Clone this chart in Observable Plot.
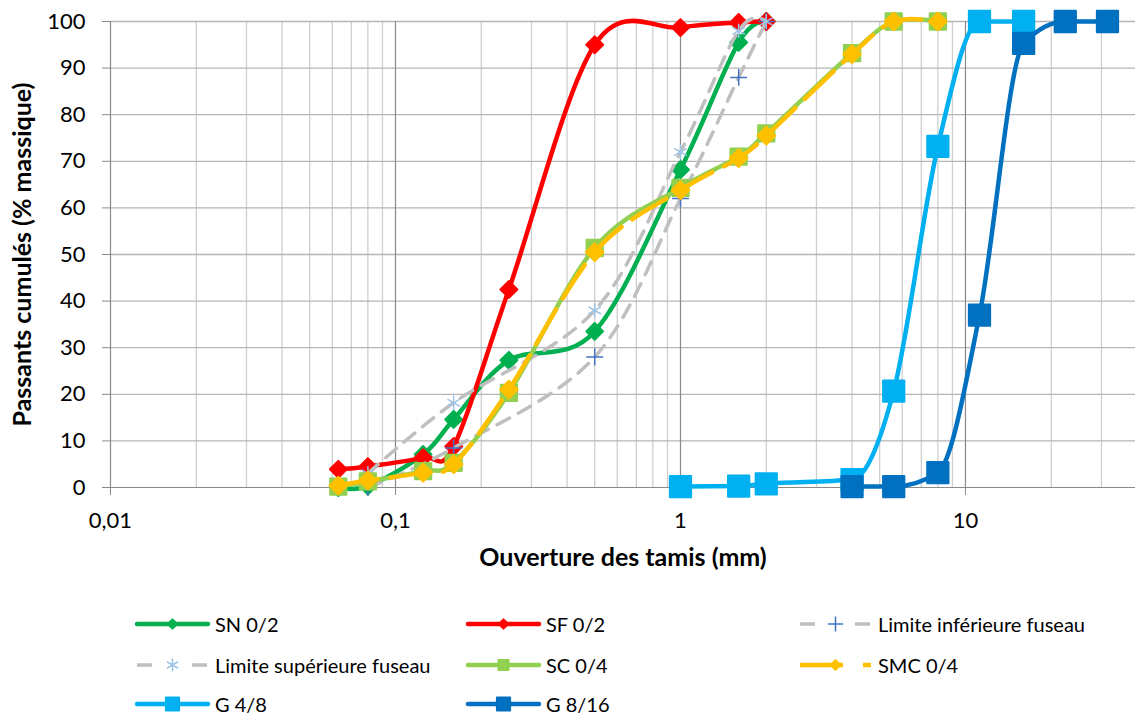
<!DOCTYPE html>
<html><head><meta charset="utf-8">
<script src="https://cdn.jsdelivr.net/npm/d3@7"></script>
<script src="https://cdn.jsdelivr.net/npm/@observablehq/plot@0.6"></script>
<style>
body{margin:0;background:#fff;}
#wrap{position:relative;width:1135px;height:718px;overflow:hidden;background:#fff;}
#wrap svg.chart{position:absolute;left:0;top:0;}
.leg{position:absolute;display:flex;align-items:center;font-family:Lato, sans-serif;font-size:20px;line-height:20px;color:#000;white-space:nowrap;height:20px;}
.leg svg{margin-right:7px;overflow:visible;}
</style></head><body><div id="wrap"></div>
<script>
// ---- data ----
const sievesFine = [0.063, 0.08, 0.125, 0.16, 0.25, 0.5, 1, 1.6, 2];
const snPassing  = [0, 0.3, 7.1, 14.6, 27.3, 33.5, 68.2, 95.5, 100];
const sfPassing  = [3.9, 4.5, 6.4, 8.8, 42.5, 95, 98.7, 99.8, 100];

const sievesLimits = [0.08, 0.16, 0.5, 1, 1.6, 2];
const limInfPassing = [0, 8.5, 28, 62, 88, 100];
const limSupPassing = [3, 18.2, 38, 72, 98, 100];

const sievesSand04 = [0.063, 0.08, 0.125, 0.16, 0.25, 0.5, 1, 1.6, 2, 4, 5.6, 8];
const scPassing  = [0.2, 1.3, 3.5, 5.3, 20.3, 51.4, 64.3, 71, 76, 93.2, 100, 100];
const smcPassing = [0.4, 1.5, 3.2, 5, 21, 50.5, 63.8, 70.7, 75.5, 93, 100, 100];

const sievesG48 = [1, 1.6, 2, 4, 5.6, 8, 11.2, 16];
const g48Passing = [0.2, 0.3, 0.8, 1.7, 20.7, 73.2, 100, 100];

const sievesG816 = [4, 5.6, 8, 11.2, 16, 22.4, 31.5];
const g816Passing = [0.2, 0.2, 3.2, 37, 95.3, 100, 100];

const seriesNames = ["SN 0/2", "SF 0/2", "Limite inférieure fuseau", "Limite supérieure fuseau", "SC 0/4", "SMC 0/4", "G 4/8", "G 8/16"];
const seriesX = [sievesFine, sievesFine, sievesLimits, sievesLimits, sievesSand04, sievesSand04, sievesG48, sievesG816];
const seriesY = [snPassing, sfPassing, limInfPassing, limSupPassing, scPassing, smcPassing, g48Passing, g816Passing];

const yTicks = [0, 10, 20, 30, 40, 50, 60, 70, 80, 90, 100];
const xTicks = [0.01, 0.1, 1, 10];
const xTitle = "Ouverture des tamis (mm)";
const yTitle = "Passants cumulés (% massique)";

// ---- styles ----
const GRAY = "#BFBFBF";
const styles = {
  "SN 0/2": {color:"#00B050", width:4.5, symbol:"diamond2", r:7.6, mfill:"#00B050", mstroke:"#00B050"},
  "SF 0/2": {color:"#FF0000", width:4.5, symbol:"diamond2", r:7.6, mfill:"#FF0000", mstroke:"#FF0000"},
  "Limite inférieure fuseau": {color:GRAY, width:3.5, dash:"14,10", symbol:"plus", r:5.5, mfill:"none", mstroke:"#4472C4", mw:1.5},
  "Limite supérieure fuseau": {color:GRAY, width:3.5, dash:"14,10", symbol:"asterisk", r:6.8, mfill:"none", mstroke:"#9DC3E6", mw:1.5},
  "SC 0/4": {color:"#92D050", width:4.5, symbol:"square", r:9.2, mfill:"#92D050", mstroke:"#92D050"},
  "SMC 0/4": {color:"#FFC000", width:4.5, dash:"40,13", symbol:"diamond2", r:8, mfill:"#FFC000", mstroke:"#FFC000"},
  "G 4/8": {color:"#00B0F0", width:4.5, symbol:"square", r:12, mfill:"#00B0F0", mstroke:"#00B0F0", curve:"monotone-x"},
  "G 8/16": {color:"#0070C0", width:4.5, symbol:"square", r:12, mfill:"#0070C0", mstroke:"#0070C0", curve:"monotone-x"}
};

const rows = seriesNames.flatMap((name, k) => seriesX[k].map((x, i) => ({name, x, y: seriesY[k][i]})));

const xMin = 0.01, xMax = 39.5;
const minorTicks = [];
for (const dec of [0.01, 0.1, 1, 10]) for (let m = 2; m <= 9; m++) { const v = +(m*dec).toPrecision(3); if (v < xMax) minorTicks.push(v); }

const fmt = d => String(d).replace(".", ",");

const seriesMarks = seriesNames.flatMap(name => {
  const s = styles[name];
  const data = rows.filter(d => d.name === name);
  const curveOpts = s.curve ? {curve: s.curve} : {curve: "cardinal", tension: 0};
  return [
    Plot.line(data, {x:"x", y:"y", stroke:s.color, strokeWidth:s.width, strokeDasharray:s.dash, strokeLinejoin:"round", ...curveOpts}),
    Plot.dot(data, {x:"x", y:"y", symbol:s.symbol, r:s.r, fill:s.mfill, stroke:s.mstroke, strokeWidth:s.mw ?? 2, strokeLinejoin:"round"})
  ];
});

const chart = Plot.plot({
  width: 1135,
  height: 595,
  marginLeft: 110,
  marginRight: 0,
  marginTop: 21,
  marginBottom: 108,
  style: {fontFamily: "Lato, sans-serif", background: "#fff", overflow: "visible"},
  x: {type: "log", domain: [xMin, xMax]},
  y: {domain: [0, 100]},
  marks: [
    Plot.ruleX(minorTicks, {stroke:"#cfcfcf", strokeWidth:1.3}),
    Plot.ruleY(yTicks.filter(d => d > 0), {stroke:"#b5b5b5", strokeWidth:1.3}),
    Plot.ruleX(xTicks.filter(d => d > xMin), {stroke:"#8a8a8a", strokeWidth:1.2}),
    Plot.ruleX([xMin], {stroke:"#8a8a8a", strokeWidth:1.2}),
    Plot.ruleY([0], {stroke:"#8a8a8a", strokeWidth:1.2}),
    Plot.axisY({ticks: yTicks, tickSize: 8, tickPadding: 17, fontSize: 22, stroke:"#8a8a8a", fill:"#000", label: null}),
    Plot.axisX({ticks: xTicks, tickSize: 8, tickPadding: 17, fontSize: 22, stroke:"#8a8a8a", fill:"#000", tickFormat: fmt, label: null}),
    Plot.text([xTitle], {frameAnchor:"bottom", dy: 78, fontSize: 25, fontWeight: "bold", fill:"#000"}),
    Plot.text([yTitle], {frameAnchor:"left", dx: -88, rotate: -90, textAnchor: "middle", fontSize: 25, fontWeight: "bold", fill:"#000"}),
    ...seriesMarks
  ]
});
chart.classList.add("chart");
const wrap = document.getElementById("wrap");
wrap.appendChild(chart);

// ---- legend ----
const legendCols = [137, 468, 800];
const legendRows = [624, 665, 704];
seriesNames.forEach((name, i) => {
  const s = styles[name];
  const div = document.createElement("div");
  div.className = "leg";
  div.style.left = legendCols[i % 3] + "px";
  div.style.top = (legendRows[Math.floor(i / 3)] - 10) + "px";
  const W = 71, H = 20;
  const svg = d3.create("svg").attr("width", W).attr("height", H);
  svg.append("line").attr("x1", 0).attr("x2", W).attr("y1", H/2).attr("y2", H/2)
    .attr("stroke", s.color).attr("stroke-width", s.width)
    .attr("stroke-dasharray", s.dash ? (s.dash.startsWith("14") ? "15,20,0,20" : "43,20") : null)
    .attr("stroke-linecap", s.dash ? "butt" : "round");
  const symMap = {diamond2: d3.symbolDiamond2, square: d3.symbolSquare, plus: d3.symbolPlus, asterisk: d3.symbolAsterisk};
  const scale = s.symbol === "square" ? 0.62 : (s.symbol === "diamond2" ? 0.55 : 0.9);
  const rr = s.r * scale;
  svg.append("path").attr("transform", `translate(${W/2},${H/2})`)
    .attr("d", d3.symbol(symMap[s.symbol], Math.PI * rr * rr)())
    .attr("fill", s.mfill).attr("stroke", s.mstroke).attr("stroke-width", s.mw ?? 2).attr("stroke-linejoin", "round");
  div.appendChild(svg.node());
  const span = document.createElement("span");
  span.textContent = name;
  div.appendChild(span);
  wrap.appendChild(div);
});
</script></body></html>
